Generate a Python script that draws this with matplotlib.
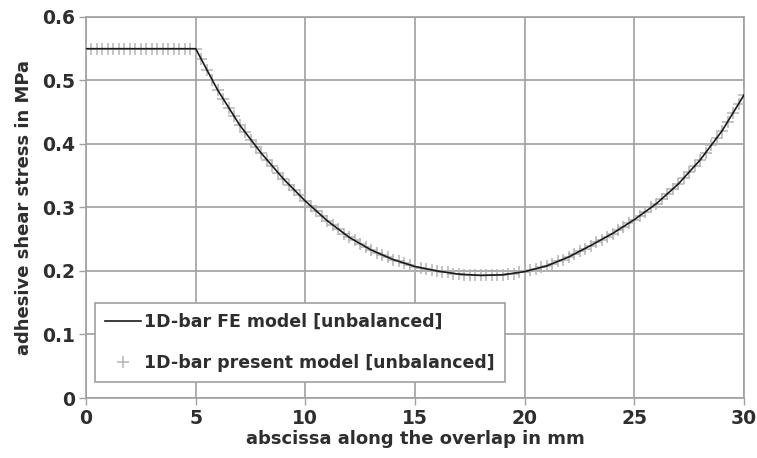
import numpy as np
import matplotlib
matplotlib.use("Agg")
import matplotlib.pyplot as plt

# FE model (line), read at 1 mm steps
x_fe = np.arange(0, 31, 1)
tau_fe = [0.55, 0.55, 0.55, 0.55, 0.55, 0.55,
          0.485, 0.430, 0.385, 0.345, 0.310,
          0.279, 0.253, 0.233, 0.218, 0.207,
          0.200, 0.195, 0.193, 0.194, 0.199,
          0.208, 0.222, 0.240, 0.259, 0.281,
          0.306, 0.337, 0.375, 0.421, 0.4775]

# present model (markers), read at 0.25 mm steps
x_pm = np.arange(0, 30.001, 0.25)
tau_pm = [0.55, 0.55, 0.55, 0.55, 0.55, 0.55, 0.55, 0.55, 0.55, 0.55,
          0.55, 0.55, 0.55, 0.55, 0.55, 0.55, 0.55, 0.55, 0.55, 0.55, 0.55,
          0.533, 0.517, 0.501, 0.485,
          0.471, 0.457, 0.444, 0.430,
          0.419, 0.407, 0.396, 0.385,
          0.375, 0.365, 0.355, 0.345,
          0.336, 0.327, 0.319, 0.310,
          0.302, 0.294, 0.287, 0.279,
          0.272, 0.266, 0.259, 0.253,
          0.248, 0.243, 0.238, 0.233,
          0.229, 0.225, 0.222, 0.218,
          0.215, 0.212, 0.210, 0.207,
          0.205, 0.203, 0.202, 0.200,
          0.199, 0.198, 0.196, 0.195,
          0.194, 0.194, 0.193, 0.193,
          0.193, 0.193, 0.193, 0.194,
          0.195, 0.196, 0.198, 0.199,
          0.201, 0.203, 0.206, 0.208,
          0.211, 0.215, 0.218, 0.222,
          0.226, 0.231, 0.235, 0.240,
          0.245, 0.249, 0.254, 0.259,
          0.264, 0.270, 0.275, 0.281,
          0.287, 0.293, 0.300, 0.306,
          0.314, 0.321, 0.329, 0.337,
          0.346, 0.356, 0.365, 0.375,
          0.386, 0.398, 0.409, 0.421,
          0.435, 0.449, 0.463, 0.4775]

plt.rcParams['font.family'] = ['DejaVu Sans']
plt.rcParams['font.weight'] = 'bold'

fig = plt.figure(figsize=(7.57, 4.58), dpi=100)
ax = fig.add_axes([0.1136, 0.131, 0.8694, 0.832])

gridc = '#a0a0a0'
txtc = '#2e2e2e'
ax.plot(x_pm, tau_pm, linestyle='none', marker='+', markersize=8, markeredgewidth=1.1,
        color='#b4b4b4', label='1D-bar present model [unbalanced]', zorder=3)
ax.plot(x_fe, tau_fe, color='#1a1a1a', linewidth=1.2,
        label='1D-bar FE model [unbalanced]', zorder=4)

ax.set_xlim(0, 30)
ax.set_ylim(0, 0.6)
ax.set_xticks([0, 5, 10, 15, 20, 25, 30])
ax.set_yticks([0, 0.1, 0.2, 0.3, 0.4, 0.5, 0.6])
ax.set_yticklabels(['0', '0.1', '0.2', '0.3', '0.4', '0.5', '0.6'])
ax.grid(True, color=gridc, linewidth=1.2)
for s in ax.spines.values():
    s.set_color(gridc)
    s.set_linewidth(1.2)
ax.tick_params(labelcolor=txtc, labelsize=13.5, length=5, width=1.0,
               direction='out', pad=3, color=gridc)
for lab in ax.get_xticklabels() + ax.get_yticklabels():
    lab.set_fontweight('bold')

ax.set_xlabel('abscissa along the overlap in mm', fontsize=13, fontweight='bold',
              color=txtc, labelpad=1)
ax.set_ylabel('adhesive shear stress in MPa', fontsize=13, fontweight='bold',
              color=txtc, labelpad=6)

h, l = ax.get_legend_handles_labels()
leg = ax.legend([h[1], h[0]], [l[1], l[0]], loc='lower left', bbox_to_anchor=(0.013, 0.042),
                borderaxespad=0, fancybox=False, framealpha=1, edgecolor=gridc,
                prop={'size': 12.5, 'weight': 'bold'}, handlelength=2.1, handletextpad=0.15,
                labelspacing=1.3, borderpad=0.6)
leg.get_frame().set_linewidth(1.2)
for t in leg.get_texts():
    t.set_color(txtc)

fig.savefig('out.png', dpi=100)
